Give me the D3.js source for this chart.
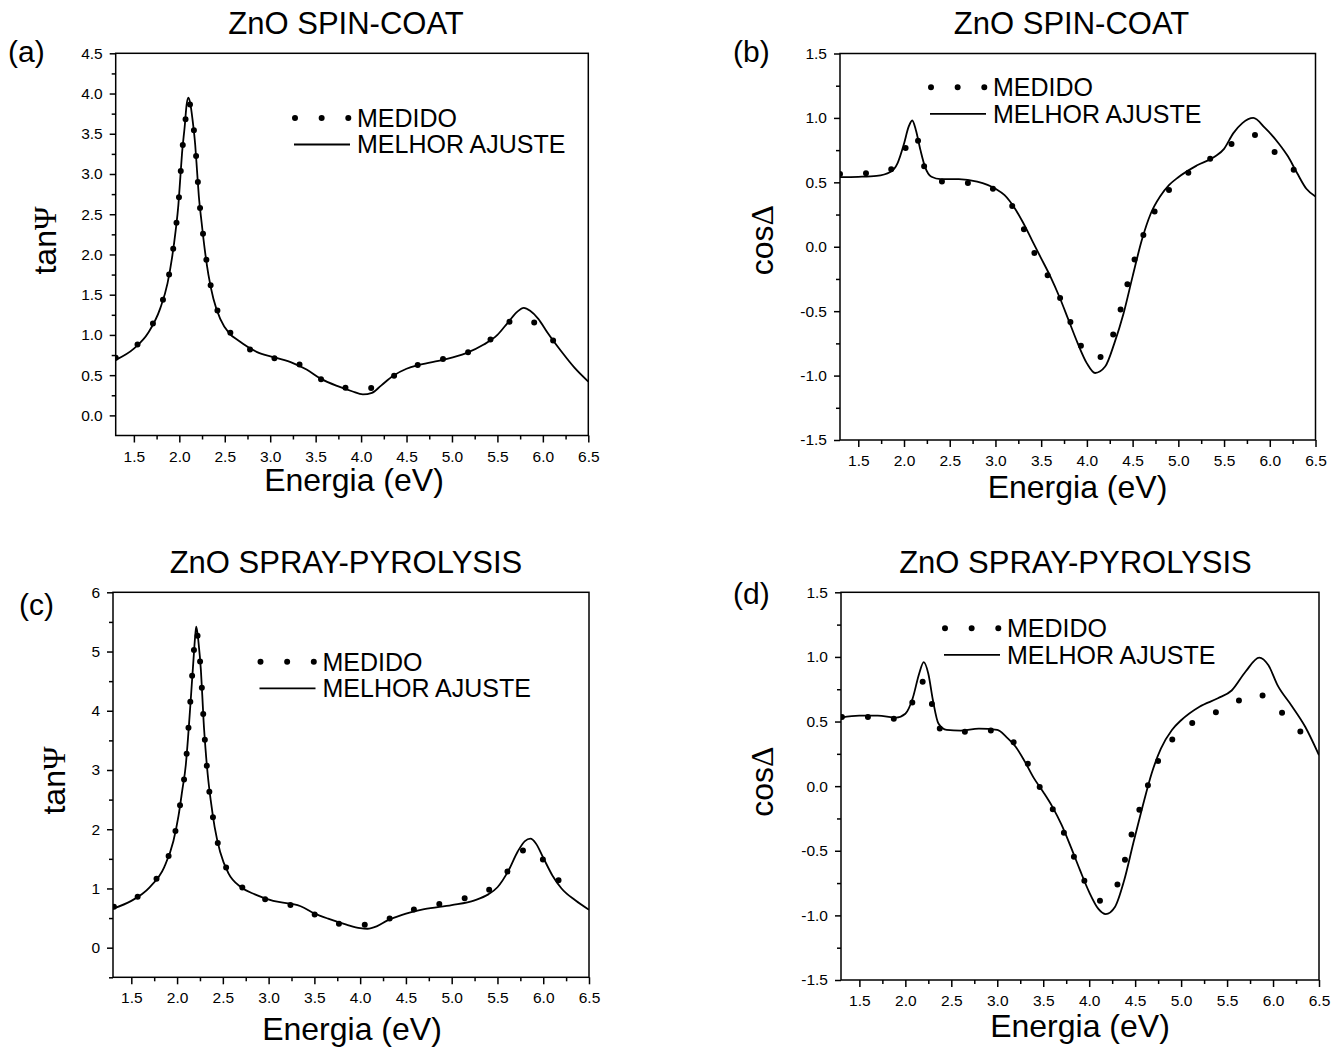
<!DOCTYPE html>
<html>
<head>
<meta charset="utf-8">
<script src="https://d3js.org/d3.v7.min.js"></script>
<style>
  body { margin: 0; background: #fff; }
  svg text { font-family: "Liberation Sans", Arial, sans-serif; fill: #000; }
</style>
</head>
<body>
<svg width="1339" height="1054"></svg>
<script>
// values (energy in eV)

// (a) spin-coat, tanPsi
let energyMedA = [1.30, 1.50, 1.66, 1.79, 1.87, 1.92, 1.96, 1.99, 2.01, 2.03, 2.06, 2.09, 2.10, 2.12, 2.145, 2.175, 2.195, 2.215, 2.245, 2.28, 2.32, 2.375, 2.48, 2.63, 2.88, 3.05, 3.31, 3.56, 3.82, 3.97, 4.11, 4.36, 4.63, 4.90, 5.17, 5.41, 5.61, 5.74, 5.86, 6.07, 6.20, 6.32]
let tanPsiMedA = [0.715, 0.84, 1.05, 1.34, 1.65, 1.97, 2.31, 2.62, 2.94, 3.26, 3.58, 3.90, 3.93, 3.85, 3.69, 3.37, 3.05, 2.73, 2.41, 2.08, 1.77, 1.46, 1.17, 0.94, 0.77, 0.71, 0.64, 0.45, 0.345, 0.32, 0.34, 0.49, 0.63, 0.70, 0.78, 0.93, 1.15, 1.20, 1.18, 0.97, 0.85, 0.76]
let energyFitA = [1.30, 1.50, 1.66, 1.79, 1.87, 1.92, 1.96, 1.99, 2.01, 2.03, 2.06, 2.08, 2.10, 2.12, 2.145, 2.175, 2.195, 2.215, 2.245, 2.28, 2.32, 2.375, 2.45, 2.55, 2.65, 2.85, 3.05, 3.25, 3.40, 3.55, 3.75, 3.90, 4.02, 4.12, 4.22, 4.35, 4.50, 4.65, 4.90, 5.15, 5.35, 5.50, 5.62, 5.72, 5.79, 5.86, 5.95, 6.05, 6.20, 6.35, 6.50]
let tanPsiFitA = [0.69, 0.83, 1.03, 1.33, 1.64, 1.96, 2.30, 2.62, 2.94, 3.26, 3.60, 3.86, 3.95, 3.88, 3.68, 3.36, 3.04, 2.72, 2.40, 2.06, 1.75, 1.45, 1.20, 1.02, 0.93, 0.79, 0.72, 0.65, 0.57, 0.46, 0.36, 0.30, 0.26, 0.28, 0.37, 0.49, 0.58, 0.63, 0.69, 0.77, 0.88, 1.00, 1.16, 1.29, 1.335, 1.30, 1.20, 1.03, 0.80, 0.59, 0.42]

// (b) spin-coat, cosDelta
let energyMedB = [1.30, 1.50, 1.70, 1.90, 2.05, 2.11, 2.15, 2.20, 2.27, 2.34, 2.60, 2.87, 3.05, 3.25, 3.36, 3.47, 3.63, 3.76, 3.87, 3.99, 4.10, 4.22, 4.33, 4.40, 4.48, 4.56, 4.67, 4.80, 5.00, 5.22, 5.46, 5.72, 5.82, 5.93, 6.15, 6.36, 6.40]
let cosDeltaMedB = [0.565, 0.57, 0.57, 0.62, 0.81, 0.88, 0.83, 0.67, 0.55, 0.51, 0.50, 0.48, 0.41, 0.24, 0.05, -0.11, -0.29, -0.48, -0.67, -0.83, -0.87, -0.79, -0.59, -0.40, -0.20, -0.01, 0.17, 0.35, 0.51, 0.63, 0.73, 0.86, 0.87, 0.81, 0.67, 0.52, 0.48]
let energyFitB = [1.30, 1.50, 1.70, 1.85, 1.93, 2.00, 2.05, 2.09, 2.13, 2.18, 2.23, 2.30, 2.40, 2.60, 2.80, 3.00, 3.10, 3.20, 3.30, 3.40, 3.50, 3.60, 3.70, 3.80, 3.90, 4.00, 4.09, 4.20, 4.30, 4.40, 4.50, 4.60, 4.70, 4.80, 4.90, 5.00, 5.20, 5.40, 5.50, 5.60, 5.70, 5.82, 5.95, 6.10, 6.20, 6.30, 6.40, 6.50]
let cosDeltaFitB = [0.54, 0.543, 0.55, 0.58, 0.65, 0.80, 0.93, 0.98, 0.905, 0.75, 0.62, 0.543, 0.525, 0.525, 0.505, 0.45, 0.40, 0.31, 0.19, 0.05, -0.09, -0.23, -0.39, -0.57, -0.75, -0.905, -0.98, -0.93, -0.75, -0.52, -0.23, 0.05, 0.26, 0.39, 0.48, 0.54, 0.63, 0.70, 0.76, 0.88, 0.96, 1.00, 0.92, 0.80, 0.70, 0.57, 0.45, 0.39]

// (c) spray-pyrolysis, tanPsi
let energyMedC = [1.31, 1.50, 1.70, 1.856, 1.956, 2.015, 2.057, 2.095, 2.116, 2.137, 2.157, 2.178, 2.199, 2.21, 2.233, 2.258, 2.275, 2.29, 2.31, 2.333, 2.367, 2.41, 2.467, 2.576, 2.777, 3.062, 3.32, 3.60, 3.883, 4.168, 4.44, 4.71, 5.00, 5.256, 5.487, 5.675, 5.80, 5.884, 6.07, 6.26]
let tanPsiMedC = [0.69, 0.80, 1.03, 1.37, 1.79, 2.24, 2.66, 3.08, 3.53, 3.98, 4.43, 4.88, 5.31, 5.36, 5.14, 4.69, 4.27, 3.82, 3.37, 2.92, 2.46, 2.04, 1.62, 1.255, 0.945, 0.775, 0.69, 0.495, 0.38, 0.40, 0.58, 0.69, 0.78, 0.89, 1.06, 1.42, 1.66, 1.68, 1.31, 0.985]
let energyFitC = [1.30, 1.50, 1.70, 1.86, 1.96, 2.015, 2.057, 2.095, 2.12, 2.14, 2.16, 2.18, 2.20, 2.21, 2.235, 2.26, 2.275, 2.29, 2.31, 2.335, 2.37, 2.41, 2.47, 2.56, 2.70, 2.85, 3.05, 3.25, 3.35, 3.50, 3.65, 3.85, 4.00, 4.08, 4.18, 4.30, 4.45, 4.70, 5.00, 5.25, 5.40, 5.50, 5.62, 5.72, 5.80, 5.86, 5.92, 6.00, 6.10, 6.20, 6.35, 6.50]
let tanPsiFitC = [0.66, 0.79, 1.02, 1.36, 1.80, 2.22, 2.66, 3.08, 3.55, 3.98, 4.43, 4.88, 5.30, 5.42, 5.14, 4.69, 4.27, 3.82, 3.37, 2.92, 2.46, 2.04, 1.62, 1.26, 1.02, 0.90, 0.79, 0.74, 0.70, 0.58, 0.49, 0.39, 0.33, 0.32, 0.36, 0.46, 0.55, 0.65, 0.72, 0.80, 0.90, 1.02, 1.30, 1.62, 1.80, 1.84, 1.76, 1.52, 1.22, 1.00, 0.80, 0.64]

// (d) spray-pyrolysis, cosDelta
let energyMedD = [1.31, 1.48, 1.65, 1.855, 2.05, 2.15, 2.24, 2.30, 2.40, 2.66, 2.94, 3.06, 3.28, 3.40, 3.54, 3.68, 3.79, 3.90, 4.035, 4.14, 4.25, 4.36, 4.43, 4.51, 4.60, 4.70, 4.82, 5.00, 5.27, 5.53, 5.81, 6.02, 6.23, 6.44]
let cosDeltaMedD = [0.535, 0.535, 0.535, 0.52, 0.60, 0.81, 0.795, 0.60, 0.43, 0.42, 0.43, 0.395, 0.25, 0.067, -0.095, -0.29, -0.47, -0.66, -0.84, -0.89, -0.84, -0.65, -0.45, -0.26, -0.07, 0.12, 0.28, 0.43, 0.535, 0.62, 0.72, 0.62, 0.47, 0.325]
let energyFitD = [1.30, 1.50, 1.70, 1.90, 2.00, 2.08, 2.15, 2.20, 2.25, 2.30, 2.36, 2.45, 2.60, 2.80, 3.00, 3.10, 3.20, 3.30, 3.40, 3.50, 3.60, 3.70, 3.80, 3.90, 4.00, 4.10, 4.18, 4.28, 4.38, 4.48, 4.58, 4.68, 4.78, 4.90, 5.00, 5.20, 5.40, 5.55, 5.70, 5.85, 5.95, 6.05, 6.20, 6.35, 6.50]
let cosDeltaFitD = [0.53, 0.545, 0.545, 0.53, 0.56, 0.68, 0.87, 0.96, 0.87, 0.665, 0.485, 0.435, 0.43, 0.445, 0.435, 0.38, 0.305, 0.19, 0.06, -0.045, -0.16, -0.30, -0.47, -0.65, -0.82, -0.95, -0.99, -0.935, -0.73, -0.44, -0.16, 0.10, 0.29, 0.435, 0.51, 0.615, 0.68, 0.74, 0.885, 0.995, 0.935, 0.78, 0.625, 0.46, 0.24]

// ticks
let xTicks = [1.5, 2.0, 2.5, 3.0, 3.5, 4.0, 4.5, 5.0, 5.5, 6.0, 6.5]
let xMinor = [1.75, 2.25, 2.75, 3.25, 3.75, 4.25, 4.75, 5.25, 5.75, 6.25]
let yTicksTanA = [0.0, 0.5, 1.0, 1.5, 2.0, 2.5, 3.0, 3.5, 4.0, 4.5]
let yMinorTanA = [0.25, 0.75, 1.25, 1.75, 2.25, 2.75, 3.25, 3.75, 4.25]
let yTicksTanC = [0, 1, 2, 3, 4, 5, 6]
let yMinorTanC = [-0.5, 0.5, 1.5, 2.5, 3.5, 4.5, 5.5]
let yTicksCos = [-1.5, -1.0, -0.5, 0.0, 0.5, 1.0, 1.5]
let yMinorCos = [-1.25, -0.75, -0.25, 0.25, 0.75, 1.25]

let legendNames = ["MEDIDO", "MELHOR AJUSTE"]

// plain hyphen for negative tick labels, like the original
let locale = d3.formatLocale({ decimal: ".", thousands: ",", grouping: [3], currency: ["", ""], minus: "-" })

let svg = d3.select("svg")

let panels = [
  { tag: "(a)", title: "ZnO SPIN-COAT", sym: "\u03A8", fn: "tan",
    med: d3.zip(energyMedA, tanPsiMedA), fit: d3.zip(energyFitA, tanPsiFitA),
    left: 115.7, right: 588.3, top: 53.3, bottom: 435.5,
    yDomain: [-0.25, 4.5], yTicks: yTicksTanA, yMinor: yMinorTanA, yFmt: ".1f",
    titleX: 346, titleY: 34, tagX: 8, tagY: 62, ylabX: 55.5, ylabY: 240.5,
    xlabX: 354, xlabY: 491, legX: 295, legY: 126.7 },
  { tag: "(b)", title: "ZnO SPIN-COAT", sym: "\u0394", fn: "cos",
    med: d3.zip(energyMedB, cosDeltaMedB), fit: d3.zip(energyFitB, cosDeltaFitB),
    left: 840, right: 1315.5, top: 53.5, bottom: 440,
    yDomain: [-1.5, 1.5], yTicks: yTicksCos, yMinor: yMinorCos, yFmt: ".1f",
    titleX: 1071.5, titleY: 34, tagX: 733, tagY: 62, ylabX: 773, ylabY: 240,
    xlabX: 1077.5, xlabY: 498, legX: 931, legY: 96 },
  { tag: "(c)", title: "ZnO SPRAY-PYROLYSIS", sym: "\u03A8", fn: "tan",
    med: d3.zip(energyMedC, tanPsiMedC), fit: d3.zip(energyFitC, tanPsiFitC),
    left: 113, right: 589, top: 592.3, bottom: 977.3,
    yDomain: [-0.5, 6], yTicks: yTicksTanC, yMinor: yMinorTanC, yFmt: "d",
    titleX: 346, titleY: 573, tagX: 19, tagY: 615, ylabX: 65, ylabY: 780.5,
    xlabX: 352, xlabY: 1040, legX: 260.5, legY: 670.5 },
  { tag: "(d)", title: "ZnO SPRAY-PYROLYSIS", sym: "\u0394", fn: "cos",
    med: d3.zip(energyMedD, cosDeltaMedD), fit: d3.zip(energyFitD, cosDeltaFitD),
    left: 841, right: 1319, top: 592.3, bottom: 980,
    yDomain: [-1.5, 1.5], yTicks: yTicksCos, yMinor: yMinorCos, yFmt: ".1f",
    titleX: 1075.5, titleY: 573, tagX: 733, tagY: 603.5, ylabX: 773, ylabY: 781.5,
    xlabX: 1080, xlabY: 1037, legX: 945, legY: 637 }
]

let drawPanel = (p, i) => {
  let xScale = d3.scaleLinear().domain([1.3, 6.5]).range([p.left, p.right])
  let yScale = d3.scaleLinear().domain(p.yDomain).range([p.bottom, p.top])

  let g = svg.append("g")

  // clip for curves
  g.append("clipPath").attr("id", "clip" + i)
    .append("rect")
    .attr("x", p.left).attr("y", p.top)
    .attr("width", p.right - p.left).attr("height", p.bottom - p.top)

  let line = d3.line()
    .x(d => xScale(d[0]))
    .y(d => yScale(d[1]))
    .curve(d3.curveMonotoneX)

  // measured: dotted line
  g.append("path")
    .attr("clip-path", "url(#clip" + i + ")")
    .attr("d", line(p.med))
    .attr("fill", "none")
    .attr("stroke", "#000")
    .attr("stroke-width", 6)
    .attr("stroke-linecap", "round")
    .attr("stroke-dasharray", "0 26")

  // fit: solid line
  g.append("path")
    .attr("clip-path", "url(#clip" + i + ")")
    .attr("d", line(p.fit))
    .attr("fill", "none")
    .attr("stroke", "#000")
    .attr("stroke-width", 1.8)

  // axes
  let xAxis = d3.axisBottom(xScale).tickValues(xTicks).tickFormat(locale.format(".1f"))
    .tickSize(7).tickPadding(8).tickSizeOuter(0)
  let xAxisMinor = d3.axisBottom(xScale).tickValues(xMinor).tickFormat("")
    .tickSize(4).tickSizeOuter(0)
  let yAxis = d3.axisLeft(yScale).tickValues(p.yTicks).tickFormat(locale.format(p.yFmt))
    .tickSize(6).tickPadding(7).tickSizeOuter(0)
  let yAxisMinor = d3.axisLeft(yScale).tickValues(p.yMinor).tickFormat("")
    .tickSize(4).tickSizeOuter(0)

  let axes = [
    g.append("g").attr("transform", `translate(0,${p.bottom})`).call(xAxisMinor),
    g.append("g").attr("transform", `translate(0,${p.bottom})`).call(xAxis),
    g.append("g").attr("transform", `translate(${p.left},0)`).call(yAxisMinor),
    g.append("g").attr("transform", `translate(${p.left},0)`).call(yAxis)
  ]
  axes.forEach(a => {
    a.select(".domain").remove()
    a.selectAll("line").attr("stroke", "#000").attr("stroke-width", 1.5)
    a.selectAll("text").style("font-size", "15.5px").attr("fill", "#000")
  })

  // frame
  g.append("rect")
    .attr("x", p.left).attr("y", p.top)
    .attr("width", p.right - p.left).attr("height", p.bottom - p.top)
    .attr("fill", "none").attr("stroke", "#000").attr("stroke-width", 1.5)

  // texts
  g.append("text").attr("x", p.titleX).attr("y", p.titleY)
    .attr("text-anchor", "middle").style("font-size", "31px").text(p.title)
  g.append("text").attr("x", p.tagX).attr("y", p.tagY)
    .style("font-size", "30px").text(p.tag)
  g.append("text").attr("x", p.xlabX).attr("y", p.xlabY)
    .attr("text-anchor", "middle").style("font-size", "32px").text("Energia (eV)")

  let yl = g.append("text")
    .attr("transform", `translate(${p.ylabX},${p.ylabY}) rotate(-90)`)
    .attr("text-anchor", "middle").style("font-size", "32px")
  yl.append("tspan").text(p.fn)
  yl.append("tspan").style("font-family", "'Liberation Serif', 'DejaVu Serif', serif").text(p.sym)

  // legend
  let leg = g.append("g")
  let dotsY = p.legY - 8.7
  leg.append("line")
    .attr("x1", p.legX).attr("x2", p.legX + 54)
    .attr("y1", dotsY).attr("y2", dotsY)
    .attr("stroke", "#000").attr("stroke-width", 6)
    .attr("stroke-linecap", "round").attr("stroke-dasharray", "0 26.65")
  leg.append("text").attr("x", p.legX + 62).attr("y", p.legY)
    .style("font-size", "25px").text(legendNames[0])
  leg.append("line")
    .attr("x1", p.legX - 1).attr("x2", p.legX + 55)
    .attr("y1", dotsY + 26.5).attr("y2", dotsY + 26.5)
    .attr("stroke", "#000").attr("stroke-width", 1.8)
  leg.append("text").attr("x", p.legX + 62).attr("y", p.legY + 26.5)
    .style("font-size", "25px").text(legendNames[1])
}

panels.forEach(drawPanel)
</script>
</body>
</html>
